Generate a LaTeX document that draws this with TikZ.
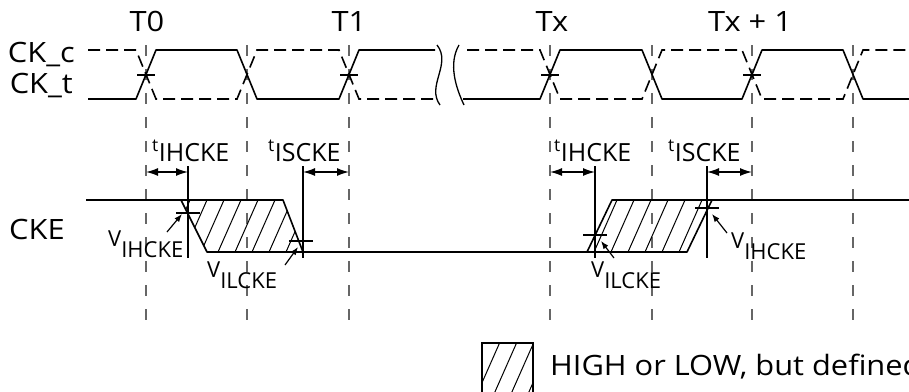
\documentclass[tikz,border=0pt]{standalone}
\usepackage{fontspec}
\setmainfont{Open Sans}
\newfontfamily\widefont{Open Sans}[FakeStretch=1.1]
\usetikzlibrary{arrows.meta,positioning}

\begin{document}
\begin{tikzpicture}
  [
    x=1pt, y=-1pt,
    Wave/.style={line width=1.6pt, line join=round},
    Clk/.style={line width=1.6pt, dash pattern=on 12pt off 6pt},
    Grid/.style={line width=1.1pt, black!60, dash pattern=on 11pt off 13pt},
    Marker/.style={line width=1.5pt},
    Dim/.style={line width=1.4pt, {Latex[length=12pt,width=8pt]}-{Latex[length=12pt,width=8pt]}},
    Pointer/.style={line width=1.2pt, -{Latex[length=8pt,width=6pt]}},
    Hatch/.style={line width=1pt},
    Big/.style={font=\widefont\fontsize{28}{32}\selectfont, inner sep=0pt},
    Mid/.style={font=\fontsize{25}{29}\selectfont, inner sep=0pt},
    Small/.style={font=\fontsize{22}{26}\selectfont, inner sep=0pt}
  ]
  \useasboundingbox (0,0) rectangle (909,391);

  % Grid lines
  \foreach \name/\gx in {g0/146, g1/247, g2/349, gx/550, gx1/652, gx2/752, gx3/853} {
    \coordinate (\name) at (\gx,45);
    \draw[Grid] (\name) -- ++(0,283);
  }

  % Clock labels
  \node[Big, anchor=base] (lt0) at (147,31) {T0};
  \node[Big, anchor=base] (lt1) at (349,31) {T1};
  \node[Big, anchor=base] (ltx) at (552,31) {Tx};
  \node[Big, anchor=base] (ltx1) at (750,31) {Tx + 1};
  \node[Big, anchor=base east] (lckc) at (75,62) {CK\_c};
  \node[Big, anchor=base east] (lckt) at (73,93) {CK\_t};

  % CK_t
  \draw[Wave] (88,99) -- (136,99) -- (156,50) -- (237,50) -- (257,99) -- (339,99) -- (359,50) -- (435,50);
  \draw[Wave] (463,99) -- (540,99) -- (560,50) -- (642,50) -- (662,99) -- (742,99) -- (762,50) -- (843,50) -- (863,99) -- (909,99);
  % CK_c
  \draw[Clk] (88,50) -- (136,50) -- (156,99) -- (237,99) -- (257,50) -- (339,50) -- (359,99) -- (435,99);
  \draw[Clk] (467,50) -- (540,50) -- (560,99) -- (642,99) -- (662,50) -- (742,50) -- (762,99) -- (843,99) -- (863,50) -- (909,50);

  % break
  \draw[line width=1.3pt] (437,45) .. controls (452,64) and (426,86) .. (440,105);
  \draw[line width=1.3pt] (459,45) .. controls (448,64) and (456,88) .. (464,105);

  % crossings
  \foreach \g in {g0, g2, gx, gx2}
    \draw[Marker] ([shift={(-9,30)}]\g) -- ++(18,0);

  % CKE
  \node[Big, anchor=base west] (lcke) at (9,239) {CKE};
  \draw[Wave] (86,200) -- (181,200);
  \draw[Wave] (303,252) -- (587,252);
  \draw[Wave] (712,200) -- (909,200);
  \begin{scope}
    \clip (181,200) -- (283,200) -- (303,252) -- (207,252) -- cycle;
    \foreach \h in {150,167,...,320}
      \draw[Hatch] (\h,252) -- ++(23,-52);
  \end{scope}
  \begin{scope}
    \clip (587,252) -- (687,252) -- (712,200) -- (612,200) -- cycle;
    \foreach \h in {560,577,...,720}
      \draw[Hatch] (\h,252) -- ++(23,-52);
  \end{scope}
  \draw[Wave] (181,200) -- (283,200) -- (303,252) -- (207,252) -- cycle;
  \draw[Wave] (587,252) -- (687,252) -- (712,200) -- (612,200) -- cycle;

  % markers
  \coordinate (dimrow) at (0,172);
  \foreach \name/\mx in {m1/188, m2/303, m3/595, m4/707} {
    \coordinate (\name) at (\mx,166);
    \draw[Marker] (\name) -- ++(0,92);
  }
  \draw[Dim] (g0 |- dimrow) -- (m1 |- dimrow);
  \draw[Dim] (m2 |- dimrow) -- (g2 |- dimrow);
  \draw[Dim] (gx |- dimrow) -- (m3 |- dimrow);
  \draw[Dim] (m4 |- dimrow) -- (gx2 |- dimrow);
  \node[Mid, anchor=base west] (tih1) at (152,161) {\textsuperscript{t}IHCKE};
  \node[Mid, anchor=base west] (tis1) at (268,161) {\textsuperscript{t}ISCKE};
  \node[Mid, anchor=base west] (tih2) at (554,161) {\textsuperscript{t}IHCKE};
  \node[Mid, anchor=base west] (tis2) at (668,161) {\textsuperscript{t}ISCKE};

  % threshold ticks
  \coordinate (k1) at (188,213);
  \coordinate (k2) at (301,241);
  \coordinate (k3) at (595,235);
  \coordinate (k4) at (707,208);
  \foreach \k in {k1, k2, k3, k4}
    \draw[Marker] ([xshift=-12pt]\k) -- ([xshift=12pt]\k);

  % threshold labels
  \node[Small, anchor=base west] (vih1) at (108,246) {V\raisebox{-11pt}{IHCKE}};
  \node[Small, anchor=base west] (vil1) at (207,277) {V\raisebox{-11pt}{ILCKE}};
  \node[Small, anchor=base west] (vil2) at (591,277) {V\raisebox{-11pt}{ILCKE}};
  \node[Small, anchor=base west] (vih2) at (731,248) {V\raisebox{-11pt}{IHCKE}};
  \coordinate (p1) at (167,232);
  \coordinate (p2) at (285,265);
  \coordinate (p3) at (614,258);
  \coordinate (p4) at (727,233);
  \draw[Pointer] (p1) -- (182,214);
  \draw[Pointer] (p2) -- (298,247);
  \draw[Pointer] (p3) -- (601,241);
  \draw[Pointer] (p4) -- (712,214);

  % legend
  \begin{scope}
    \clip (482,343) rectangle (533,394);
    \foreach \h in {460,477,...,540}
      \draw[Hatch] (\h,394) -- ++(23,-52);
  \end{scope}
  \draw[line width=1.3pt] (482,343) rectangle (533,394);
  \node[Big, anchor=base west] (lleg) at (550,375) {HIGH or LOW, but defined};
\end{tikzpicture}
\end{document}
